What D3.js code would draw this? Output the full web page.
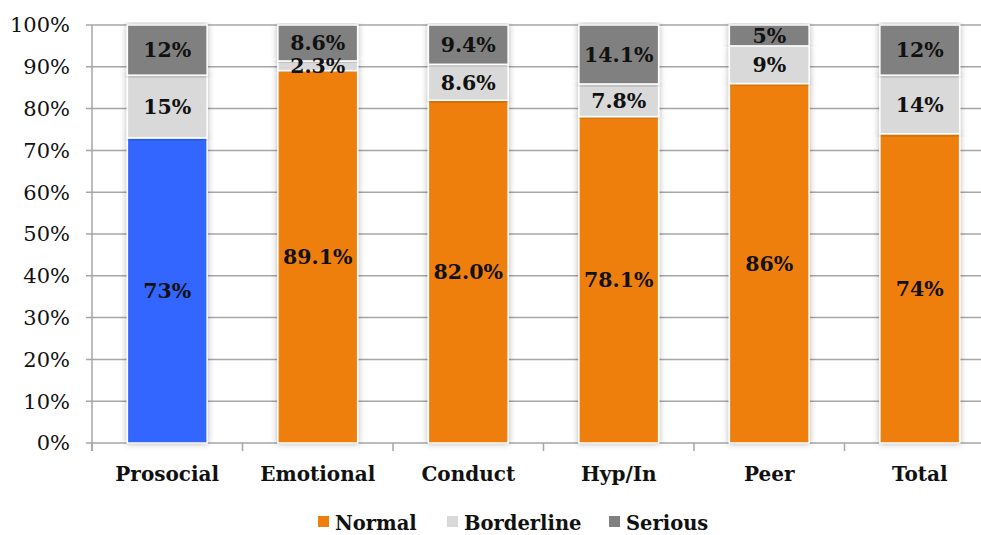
<!DOCTYPE html>
<meta charset="utf-8">
<script src="https://d3js.org/d3.v7.min.js"></script>
<style>
body { margin: 0; background: #fff; }
.axis text { font-family: "DejaVu Serif", serif; }
.grid line { stroke: #a6a6a6; stroke-width: 1.5; }
</style>
<body>
<script>
// categories and stacked values (percent)
var categories = ["Prosocial", "Emotional", "Conduct", "Hyp/In", "Peer", "Total"];
var normal     = [73, 89.1, 82.0, 78.1, 86, 74];
var borderline = [15, 2.3, 8.6, 7.8, 9, 14];
var serious    = [12, 8.6, 9.4, 14.1, 5, 12];
var normalLbl     = ["73%", "89.1%", "82.0%", "78.1%", "86%", "74%"];
var borderlineLbl = ["15%", "2.3%", "8.6%", "7.8%", "9%", "14%"];
var seriousLbl    = ["12%", "8.6%", "9.4%", "14.1%", "5%", "12%"];
var seriesNames = ["Normal", "Borderline", "Serious"];
var yTicks = [0, 10, 20, 30, 40, 50, 60, 70, 80, 90, 100];

var W = 981, H = 535;
var margin = {top: 25, right: -14, bottom: 92, left: 92};
var width = W - margin.left - margin.right,
    height = H - margin.top - margin.bottom;

var colors = {Normal: "#ef7f0c", Borderline: "#d9d9d9", Serious: "#808080"};
var prosocialColor = "#3366ff";

var svg = d3.select("body").append("svg")
    .attr("width", W).attr("height", H);

var defs = svg.append("defs");
var f = defs.append("filter").attr("id", "shadow")
    .attr("x", "-20%").attr("y", "-5%").attr("width", "140%").attr("height", "110%");
f.append("feDropShadow").attr("dx", 0).attr("dy", 0).attr("stdDeviation", 3)
    .attr("flood-color", "#000").attr("flood-opacity", 0.3);

var g = svg.append("g").attr("transform", "translate(" + margin.left + "," + margin.top + ")");

var x = d3.scaleBand().domain(categories).range([0, width]).paddingInner(0.47).paddingOuter(0.235);
var y = d3.scaleLinear().domain([0, 100]).range([height, 0]);

// gridlines
g.append("g").attr("class", "grid")
  .selectAll("line").data(yTicks).enter().append("line")
    .attr("x1", -6).attr("x2", width)
    .attr("y1", function(d) { return y(d); })
    .attr("y2", function(d) { return y(d); });

// y axis labels
g.append("g").attr("class", "axis")
  .selectAll("text").data(yTicks).enter().append("text")
    .attr("x", -22).attr("y", function(d) { return y(d); })
    .attr("dy", "0.35em").attr("text-anchor", "end")
    .style("font-size", "21px").style("fill", "#111")
    .text(function(d) { return d + "%"; });

// axis lines
g.append("line").attr("x1", 0).attr("x2", 0).attr("y1", 0).attr("y2", height + 8)
    .attr("stroke", "#a6a6a6").attr("stroke-width", 1.5);
var tickX = categories.map(function(c, i) { return i; }).concat([categories.length]);
g.append("g").selectAll("line").data(tickX).enter().append("line")
    .attr("x1", function(i) { return i * x.step(); })
    .attr("x2", function(i) { return i * x.step(); })
    .attr("y1", height).attr("y2", height + 8)
    .attr("stroke", "#a6a6a6").attr("stroke-width", 1.5);

// build stacks
var rows = categories.map(function(c, i) {
  return {cat: c, Normal: normal[i], Borderline: borderline[i], Serious: serious[i],
          labels: {Normal: normalLbl[i], Borderline: borderlineLbl[i], Serious: seriousLbl[i]}};
});
var stack = d3.stack().keys(seriesNames)(rows);

var segs = [];
stack.forEach(function(layer) {
  layer.forEach(function(d) {
    segs.push({key: layer.key, cat: d.data.cat, y0: d[0], y1: d[1], label: d.data.labels[layer.key]});
  });
});

g.append("g").selectAll("rect").data(segs).enter().append("rect")
    .attr("x", function(d) { return x(d.cat); })
    .attr("width", x.bandwidth())
    .attr("y", function(d) { return y(d.y1); })
    .attr("height", function(d) { return y(d.y0) - y(d.y1); })
    .attr("fill", function(d) {
      return (d.cat === "Prosocial" && d.key === "Normal") ? prosocialColor : colors[d.key];
    })
    .attr("stroke", "#fff").attr("stroke-width", 1.5)
    .attr("filter", "url(#shadow)");

g.append("g").selectAll("text").data(segs).enter().append("text")
    .attr("x", function(d) { return x(d.cat) + x.bandwidth() / 2; })
    .attr("y", function(d) { return y((d.y0 + d.y1) / 2); })
    .attr("dy", "0.36em").attr("text-anchor", "middle")
    .style("font-family", "'DejaVu Serif', serif").style("font-weight", "bold")
    .style("font-size", "20.5px").style("fill", "#111")
    .text(function(d) { return d.label; });

// category labels
g.append("g").selectAll("text").data(categories).enter().append("text")
    .attr("x", function(d) { return x(d) + x.bandwidth() / 2; })
    .attr("y", height + 38)
    .attr("text-anchor", "middle")
    .style("font-family", "'DejaVu Serif', serif").style("font-weight", "bold")
    .style("font-size", "20px").style("fill", "#111")
    .text(function(d) { return d; });

// legend
var legX = [318, 447, 609];
var leg = svg.append("g").selectAll("g").data(seriesNames).enter().append("g")
    .attr("transform", function(d, i) { return "translate(" + legX[i] + "," + 523 + ")"; });
leg.append("rect").attr("x", 0).attr("y", -7).attr("width", 11).attr("height", 11)
    .attr("fill", function(d) { return colors[d]; });
leg.append("text").attr("x", 17).attr("y", 0).attr("dy", "0.35em")
    .style("font-family", "'DejaVu Serif', serif").style("font-weight", "bold")
    .style("font-size", "19.5px").style("fill", "#111")
    .text(function(d) { return d; });
</script>
</body>
